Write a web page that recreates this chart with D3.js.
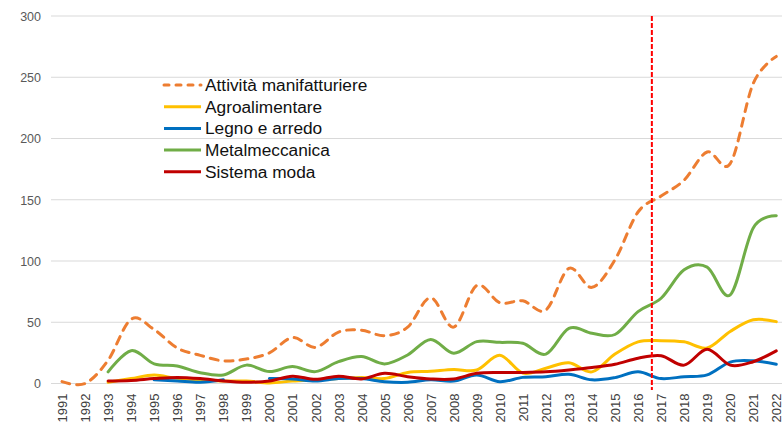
<!DOCTYPE html>
<html>
<head>
<meta charset="utf-8">
<script src="https://cdn.jsdelivr.net/npm/d3@7"></script>
<style>
  html, body { margin: 0; padding: 0; background: #fff; }
  svg { display: block; font-family: "Liberation Sans", Arial, sans-serif; }
</style>
</head>
<body>
<svg id="chart" width="782" height="426"></svg>
<script>
const years = d3.range(1991, 2023).map(String);
const yTicks = [0, 50, 100, 150, 200, 250, 300];

const seriesNames = ["Attività manifatturiere", "Agroalimentare", "Legno e arredo", "Metalmeccanica", "Sistema moda"];
const seriesColors = ["#ED7D31", "#FFC000", "#0070C0", "#70AD47", "#C00000"];

const manifatturiere = [1.5, 0, 19, 52.5, 44, 29, 23, 18.5, 20, 25, 37.5, 29.5, 42, 43.5, 39, 46, 70, 46, 80, 66, 67.5, 60, 94, 78.5, 101, 140, 153, 166, 189, 179.5, 245, 267];
const agroalimentare = [null, null, 1, 4, 7, 4, 3, 2, 2, 0.5, 2, 3, 4, 5, 4, 9, 10, 11.5, 11, 23, 8.5, 12.5, 17, 9.5, 24, 34, 35, 34, 29, 42.5, 52, 50.5];
const legno = [null, null, null, null, 3, 2, 1, 3, null, 4, 3.7, 2, 4, 4, 1.5, 1, 3, 2, 7, 1.5, 5, 5.5, 7.5, 3, 4.8, 9.5, 4, 5.6, 7, 17.5, 18.5, 15.7];
const metalmeccanica = [null, null, 9.5, 26.8, 16, 14.3, 8.8, 7, 15, 9.7, 13.8, 9.7, 17.8, 22, 16, 23.3, 36, 24.7, 34.2, 33.6, 32.8, 24, 45, 41, 40, 58.7, 69.6, 92.8, 95, 72.3, 127, 137];
const moda = [null, null, 2, 2.5, 4, 5, 4, 2, 1, 2, 6, 3.4, 6, 3.7, 8.3, 5.6, 3.7, 3.7, 8.3, 9, 9, 9.5, 11, 13, 15.7, 20.6, 22.7, 15, 28, 15, 17.8, 26.6];

const seriesValues = [manifatturiere, agroalimentare, legno, metalmeccanica, moda];
const markerYear = "2016";

const svg = d3.select("#chart");
const x = d3.scalePoint().domain(years).range([50.5, 787.8]).padding(0.5);
const y = d3.scaleLinear().domain([0, 300]).range([383.5, 16]);

// gridlines
svg.append("g").selectAll("line").data(yTicks).join("line")
  .attr("x1", 51).attr("x2", 782)
  .attr("y1", d => y(d)).attr("y2", d => y(d))
  .attr("stroke", "#d9d9d9").attr("stroke-width", 1);

// y axis labels
const yAxis = d3.axisLeft(y).tickValues(yTicks).tickSize(0).tickPadding(0);
svg.append("g").attr("transform", "translate(41,0)").call(yAxis)
  .call(g => g.select(".domain").remove())
  .call(g => g.selectAll("text").attr("font-size", 12.5).attr("fill", "#595959")
    .attr("font-family", "Liberation Sans, Arial, sans-serif").attr("dy", "0.35em"));

// x axis labels
const xAxis = d3.axisBottom(x).tickSize(0).tickPadding(0);
svg.append("g").attr("transform", "translate(0,383.5)").call(xAxis)
  .call(g => g.select(".domain").remove())
  .call(g => g.selectAll("text")
    .attr("font-size", 13).attr("fill", "#404040")
    .attr("font-family", "Liberation Sans, Arial, sans-serif")
    .attr("transform", "rotate(-90)")
    .attr("text-anchor", "end")
    .attr("x", -10).attr("y", 0).attr("dy", "0.35em"));

// lines
const line = d3.line()
  .defined(d => d.v !== null)
  .x(d => x(d.year)).y(d => y(d.v))
  .curve(d3.curveCardinal.tension(0));

seriesValues.forEach((vals, i) => {
  const data = years.map((yr, j) => ({ year: yr, v: vals[j] }));
  svg.append("path").datum(data)
    .attr("d", line)
    .attr("fill", "none")
    .attr("stroke", seriesColors[i])
    .attr("stroke-width", 3)
    .attr("stroke-linecap", "round")
    .attr("stroke-linejoin", "round")
    .attr("stroke-dasharray", i === 0 ? "8,7" : null);
});

// vertical marker
const mx = x(markerYear) + x.step() * 0.6;
svg.append("line")
  .attr("x1", mx).attr("x2", mx).attr("y1", 16).attr("y2", 390)
  .attr("stroke", "#FF0000").attr("stroke-width", 2)
  .attr("stroke-dasharray", "5,2");

// legend
const legend = svg.append("g").attr("transform", "translate(163,85)");
seriesNames.forEach((name, i) => {
  const g = legend.append("g").attr("transform", `translate(0,${i * 21.7})`);
  g.append("line").attr("x1", 1).attr("x2", 38).attr("y1", 0).attr("y2", 0)
    .attr("stroke", seriesColors[i]).attr("stroke-width", 3)
    .attr("stroke-linecap", i === 0 ? "round" : "butt")
    .attr("stroke-dasharray", i === 0 ? "5,7" : null);
  g.append("text").attr("x", 42).attr("y", 0).attr("dy", "0.35em")
    .attr("font-size", 17.3).attr("fill", "#111").text(name);
});
</script>
</body>
</html>
